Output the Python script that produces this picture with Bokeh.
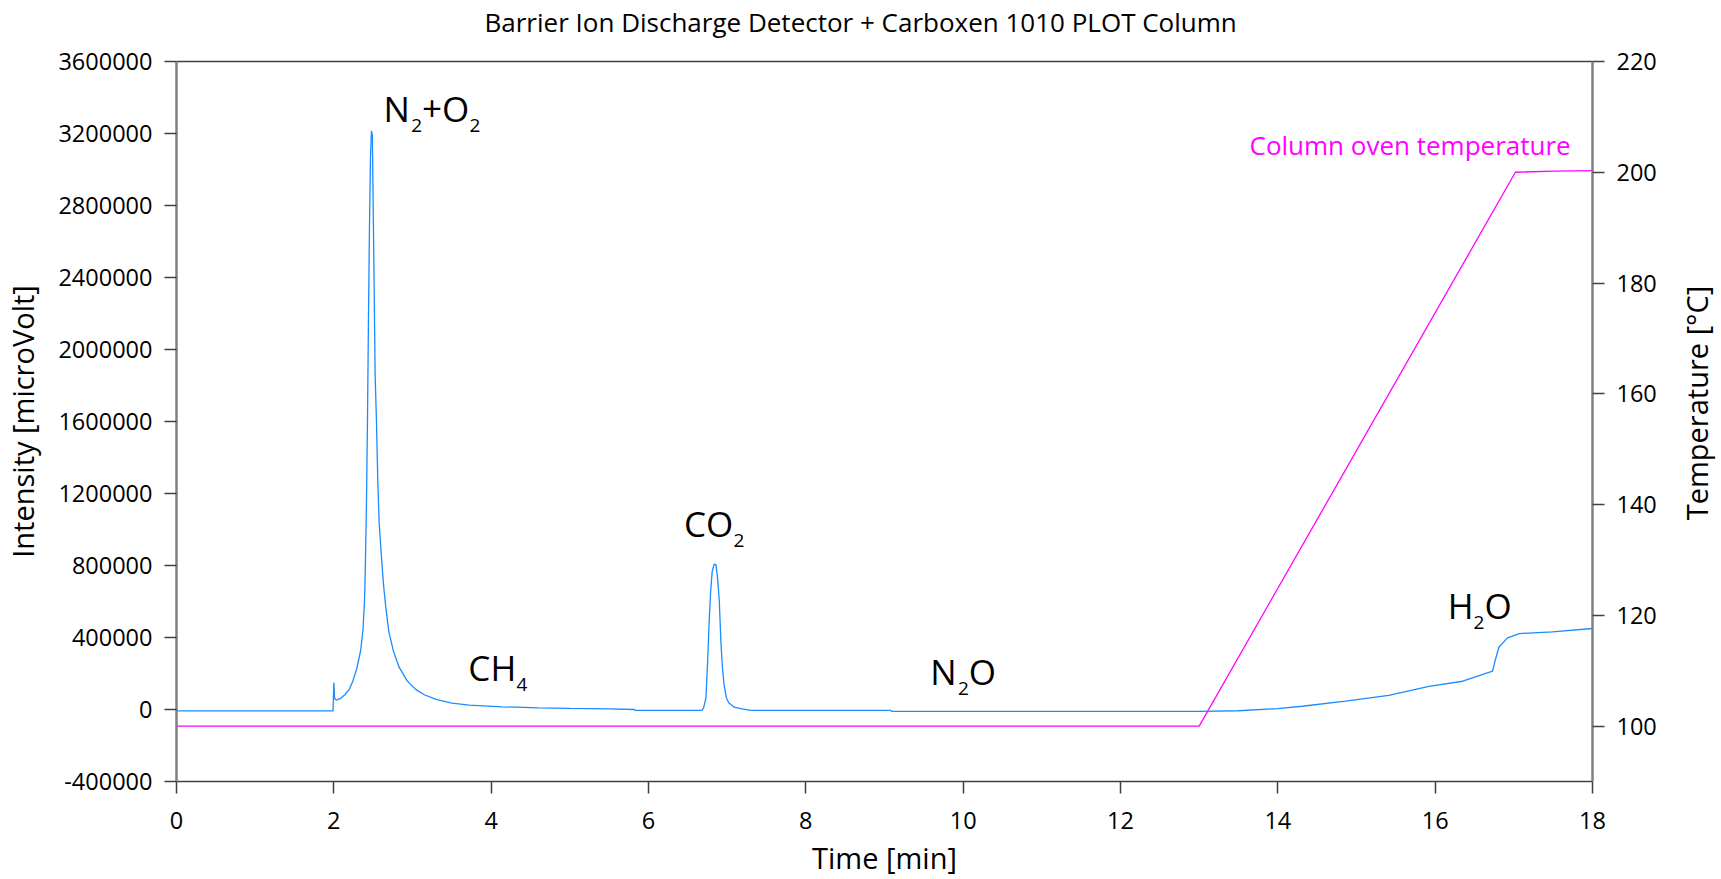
import math
from bokeh.plotting import figure
from bokeh.layouts import row
from bokeh.models import (Range1d, LinearAxis, FixedTicker, NumeralTickFormatter,
                          ColumnDataSource, Title)
from bokeh.core.properties import value
from bokeh.embed import file_html
from bokeh.resources import INLINE

# ---------------- data ----------------
time_min = [0.00, 1.99, 2.00, 2.01, 2.03, 2.08, 2.14, 2.20, 2.24, 2.29, 2.34, 2.37,
            2.39, 2.40, 2.415, 2.428, 2.441, 2.453, 2.466, 2.478, 2.490, 2.500,
            2.513, 2.525, 2.542, 2.559, 2.576, 2.600, 2.630, 2.660, 2.700, 2.760,
            2.830, 2.930, 3.040, 3.150, 3.300, 3.500, 3.720, 4.140, 4.600, 5.000,
            5.500, 5.820, 5.830, 6.680, 6.700, 6.730, 6.750, 6.770, 6.790, 6.810,
            6.835, 6.857, 6.878, 6.900, 6.920, 6.940, 6.960, 6.990, 7.020, 7.090,
            7.190, 7.300, 9.080, 9.090, 13.00, 13.50, 14.00, 14.31, 14.86, 15.41,
            15.92, 16.35, 16.73, 16.76, 16.81, 16.92, 17.07, 17.49, 18.00]
intensity_uv = [-8000, -8000, 150000, 62000, 52000, 60000, 82000, 115000, 155000,
                225000, 325000, 440000, 600000, 780000, 1150000, 1620000, 2200000,
                2680000, 3070000, 3215000, 3190000, 2800000, 2330000, 1860000,
                1600000, 1270000, 1040000, 880000, 700000, 570000, 430000, 320000,
                235000, 160000, 112000, 82000, 56000, 36000, 24000, 15000, 9000,
                6000, 3000, 0, -5000, -5000, 9000, 64000, 250000, 472000, 657000,
                768000, 808000, 805000, 731000, 602000, 379000, 231000, 139000,
                64000, 37000, 13000, 4000, -5000, -5000, -10000, -10000, -7000,
                5000, 18000, 46000, 79000, 129000, 157000, 213000, 268000, 346000,
                398000, 422000, 431000, 450000]

temp_time = [0.0, 13.0, 17.02, 17.5, 18.0]
temp_c = [100, 100, 200, 200.2, 200.3]

x_ticks = [0, 2, 4, 6, 8, 10, 12, 14, 16, 18]
y_ticks = [-400000, 0, 400000, 800000, 1200000, 1600000, 2000000, 2400000,
           2800000, 3200000, 3600000]
t_ticks = [100, 120, 140, 160, 180, 200, 220]

# peak labels: pieces, subscript flags, anchor (time, intensity)
peak_parts = [["N", "2", "+", "O", "2"], ["C", "H", "4"], ["C", "O", "2"],
              ["N", "2", "O"], ["H", "2", "O"]]
peak_subs = [[0, 1, 0, 0, 1], [0, 0, 1], [0, 0, 1], [0, 1, 0], [0, 1, 0]]
peak_time = [2.63, 3.71, 6.45, 9.58, 16.16]
peak_uv = [3249000, 142000, 944000, 124000, 490000]

# ---------------- styling ----------------
FONT = "Open Sans"
BLUE = "#1a8cff"
MAGENTA = "#ff00ff"
MAIN_SIZE = 35
SUB_SIZE = 19
MAIN_DY = -16
SUB_DY = 1
ADV = {"N": 0.796, "O": 0.781, "C": 0.634, "H": 0.739, "+": 0.571, "2": 0.572, "4": 0.572}
TOTAL_H = 878
SIDE_W = 50

p = figure(frame_width=1416, frame_height=720,
           x_range=Range1d(0, 18), y_range=Range1d(-400000, 3600000),
           output_backend="svg", toolbar_location=None,
           min_border_left=174, min_border_right=80,
           min_border_top=61, min_border_bottom=97,
           x_axis_label="Time [min]", y_axis_label="Intensity [microVolt]")
p.extra_y_ranges = {"temp": Range1d(90, 220)}
p.outline_line_color = None
p.background_fill_color = "white"
p.border_fill_color = "white"
p.xgrid.visible = False
p.ygrid.visible = False

p.title = Title(text="Barrier Ion Discharge Detector + Carboxen 1010 PLOT Column",
                align="left", offset=308, vertical_align="bottom", standoff=0,
                text_font=FONT, text_font_size="26px", text_font_style="normal",
                text_color="black")

def style_axis(ax, line_color, line_width, ticks, label_size="29px"):
    ax.ticker = FixedTicker(ticks=ticks)
    ax.axis_line_color = line_color
    ax.axis_line_width = line_width
    ax.major_tick_line_color = "#404040"
    ax.major_tick_line_width = 1.5
    ax.major_tick_out = 12
    ax.major_tick_in = 0
    ax.minor_tick_line_color = None
    ax.major_label_text_font = FONT
    ax.major_label_text_font_size = "23.5px"
    ax.major_label_text_color = "black"
    ax.axis_label_text_font = FONT
    ax.axis_label_text_font_size = label_size
    ax.axis_label_text_font_style = "normal"
    ax.axis_label_text_color = "black"

xa = p.xaxis[0]
style_axis(xa, "#404040", 1.5, x_ticks)
xa.major_label_standoff = 18
xa.axis_label_standoff = 6

ya = p.yaxis[0]
style_axis(ya, "#808080", 2.5, y_ticks)
ya.formatter = NumeralTickFormatter(format="0")
ya.major_label_standoff = 12
ya.axis_label_standoff = 13

ra = LinearAxis(y_range_name="temp")
style_axis(ra, "#808080", 2.5, t_ticks)
ra.major_label_standoff = 12
p.add_layout(ra, "right")

# top border line; a blank axis label gives the title its room
ta = LinearAxis(ticker=FixedTicker(ticks=[]), axis_line_color="#404040",
                axis_line_width=1.5, major_tick_line_color=None,
                minor_tick_line_color=None, major_label_text_font_size="0px",
                axis_label=" ", axis_label_text_font_size="16px",
                axis_label_standoff=2)
p.add_layout(ta, "above")

# traces
p.line(temp_time, temp_c, y_range_name="temp", line_color=MAGENTA, line_width=1.3)
p.line(time_min, intensity_uv, line_color=BLUE, line_width=1.3)

# peak labels built from pieces
mx, my, mt, mo = [], [], [], []
sx, sy, st, so = [], [], [], []
for parts, subs, tx, uy in zip(peak_parts, peak_subs, peak_time, peak_uv):
    off = 0.0
    for ch, s in zip(parts, subs):
        if s:
            sx.append(tx); sy.append(uy); st.append(ch); so.append(off)
            off += ADV[ch] * SUB_SIZE
        else:
            mx.append(tx); my.append(uy); mt.append(ch); mo.append(off)
            off += ADV[ch] * MAIN_SIZE

p.text(x="x", y="y", text="t", x_offset="o", y_offset=MAIN_DY,
       source=ColumnDataSource(dict(x=mx, y=my, t=mt, o=mo)),
       text_font=value(FONT), text_font_size=f"{MAIN_SIZE}px",
       text_baseline="alphabetic", text_align="left", text_color="black")
p.text(x="x", y="y", text="t", x_offset="o", y_offset=SUB_DY,
       source=ColumnDataSource(dict(x=sx, y=sy, t=st, o=so)),
       text_font=value(FONT), text_font_size=f"{SUB_SIZE}px",
       text_baseline="alphabetic", text_align="left", text_color="black")

p.text(x=[13.64], y=[202.7], text=["Column oven temperature"], y_range_name="temp",
       y_offset=-12,
       text_font=value(FONT), text_font_size="26px", text_baseline="alphabetic",
       text_align="left", text_color=MAGENTA)

# narrow side panel carrying the right axis title (reads bottom to top)
q = figure(width=SIDE_W, height=TOTAL_H, x_range=Range1d(0, SIDE_W),
           y_range=Range1d(TOTAL_H, 0), x_axis_type=None, y_axis_type=None,
           min_border=0, toolbar_location=None, output_backend="svg")
q.outline_line_color = None
q.background_fill_color = "white"
q.border_fill_color = "white"
q.text(x=[24], y=[417], text=["Temperature [°C]"], angle=math.pi / 2,
       text_font=value(FONT), text_font_size="29px", text_align="center",
       text_baseline="middle", text_color="black")

open("out.html", "w").write(file_html(row(p, q), INLINE))
